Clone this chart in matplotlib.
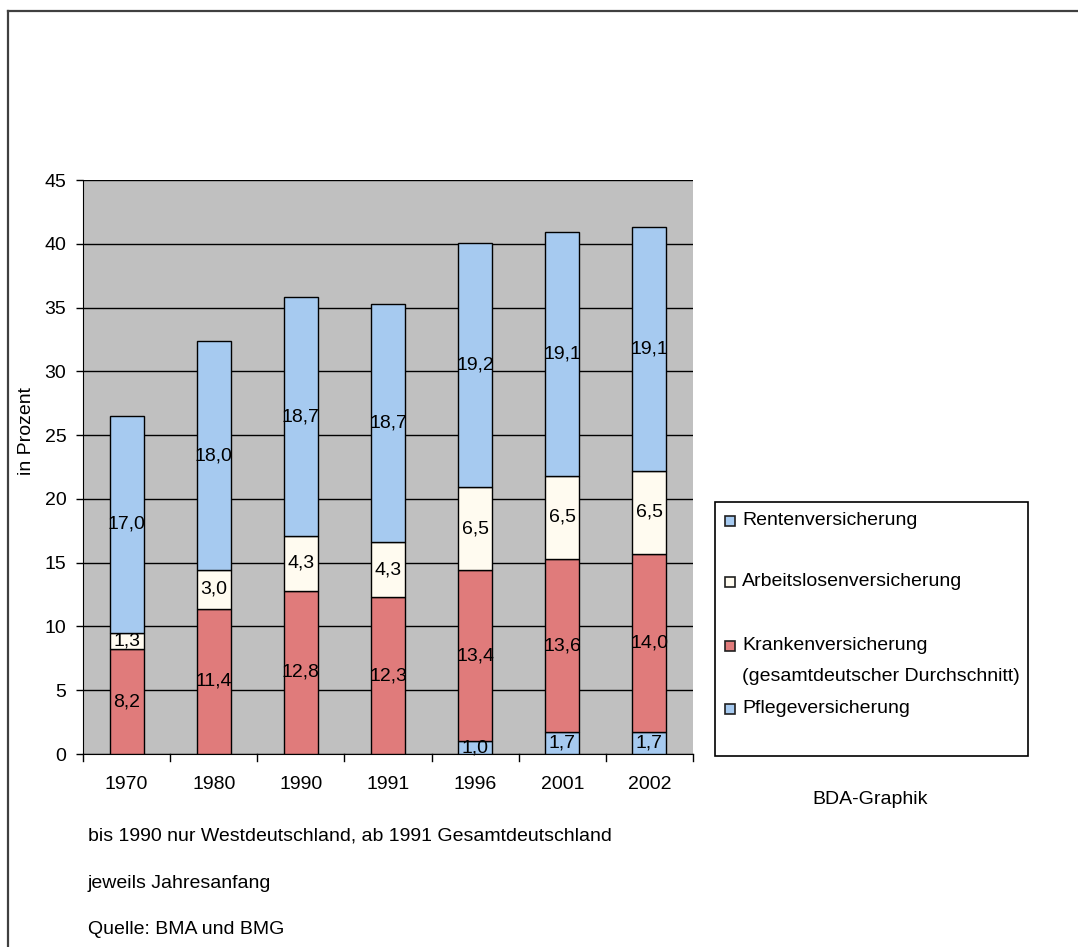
import matplotlib.pyplot as plt
from matplotlib.lines import Line2D
from matplotlib.patches import Rectangle
import numpy as np

plt.rcParams['font.family'] = ['Liberation Sans', 'DejaVu Sans']

years = ['1970', '1980', '1990', '1991', '1996', '2001', '2002']
pflege = [0, 0, 0, 0, 1.0, 1.7, 1.7]
kranken = [8.2, 11.4, 12.8, 12.3, 13.4, 13.6, 14.0]
arbeitslosen = [1.3, 3.0, 4.3, 4.3, 6.5, 6.5, 6.5]
renten = [17.0, 18.0, 18.7, 18.7, 19.2, 19.1, 19.1]

names = ['Pflegeversicherung',
         'Krankenversicherung\n(gesamtdeutscher Durchschnitt)',
         'Arbeitslosenversicherung',
         'Rentenversicherung']
colors = ['#A6CAF0', '#E07B7B', '#FFFBF0', '#A6CAF0']

W, H = 1078, 947
fs = 14

fig = plt.figure(figsize=(W/100, H/100), dpi=100)
ax = fig.add_axes([83/W, 1-754/H, 610/W, 574/H])
ax.set_facecolor('#C0C0C0')

x = np.arange(len(years))
bottom = np.zeros(len(years))
for vals, name, col in zip([pflege, kranken, arbeitslosen, renten], names, colors):
    vals = np.array(vals)
    ax.bar(x, vals, 0.39, bottom=bottom, color=col, edgecolor='black',
           linewidth=1, zorder=3)
    for xi, v, bt in zip(x, vals, bottom):
        if v > 0:
            ax.text(xi, bt + v/2, f'{v:.1f}'.replace('.', ','), ha='center',
                    va='center', fontsize=fs, zorder=4)
    bottom += vals

ax.set_xlim(-0.5, len(years) - 0.5)
ax.set_ylim(0, 45)
ax.set_yticks(range(0, 46, 5))
ax.yaxis.grid(True, color='black', linewidth=1, zorder=1)
ax.set_xticks(x)
ax.set_xticklabels(years, fontsize=fs)
ax.tick_params(axis='x', length=0, pad=16)
ax.tick_params(axis='y', labelsize=fs, length=5, width=1, pad=7)
# separator ticks between the categories
for b in np.arange(-0.5, len(years), 1):
    ax.plot([b, b], [0, -0.012], color='black', lw=1, clip_on=False,
            transform=ax.get_xaxis_transform())
for s in ['top', 'right']:
    ax.spines[s].set_visible(False)

fig.text(27/W, 1-431/H, 'in Prozent', rotation=90, ha='center',
         va='center', fontsize=fs)

# legend box, drawn by hand like the Excel one
fig.add_artist(Rectangle((715/W, 1-756/H), 313/W, 254/H, transform=fig.transFigure,
                         facecolor='white', edgecolor='black', lw=1.2))
leg_y = [521, 582, 646, 709]
for yy, idx in zip(leg_y, [3, 2, 1, 0]):
    fig.add_artist(Rectangle((725/W, 1-(yy+5)/H), 10/W, 10/H, transform=fig.transFigure,
                             facecolor=colors[idx], edgecolor='#202020', lw=1.2))
    fig.text(742/W, 1-(yy-9)/H, names[idx], ha='left', va='top', fontsize=fs,
             linespacing=2.05)

fig.text(870/W, 1-800/H, 'BDA-Graphik', ha='center', va='center', fontsize=fs)
fig.text(88/W, 1-836/H, 'bis 1990 nur Westdeutschland, ab 1991 Gesamtdeutschland',
         ha='left', va='center', fontsize=fs)
fig.text(88/W, 1-883/H, 'jeweils Jahresanfang', ha='left', va='center', fontsize=fs)
fig.text(88/W, 1-929/H, 'Quelle: BMA und BMG', ha='left', va='center', fontsize=fs)

# outer frame (top and left edges)
fig.add_artist(Line2D([8/W, 1], [1-11/H, 1-11/H], color='#404040', lw=1.6))
fig.add_artist(Line2D([8/W, 8/W], [0, 1-11/H], color='#404040', lw=1.6))

fig.savefig('out.png', dpi=100)
